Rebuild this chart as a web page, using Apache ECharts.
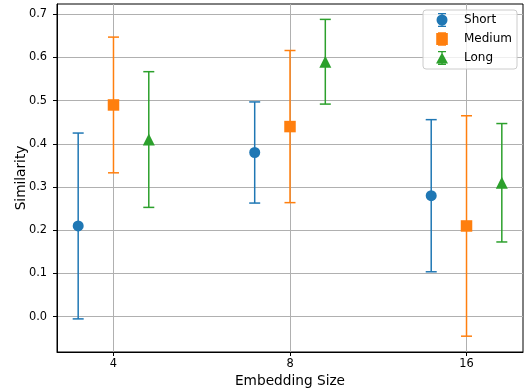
<!DOCTYPE html>
<html>
<head>
<meta charset="utf-8">
<script src="https://cdn.jsdelivr.net/npm/echarts@6/dist/echarts.min.js"></script>
<style>
html,body{margin:0;padding:0;background:#fff;}
#chart{width:526px;height:392px;}
</style>
</head>
<body>
<div id="chart"></div>
<script>
const categories = ['4', '8', '16'];
const yTicks = [0, 0.1, 0.2, 0.3, 0.4, 0.5, 0.6, 0.7];
const shortMean = [0.21, 0.38, 0.28];
const shortErr = [0.215, 0.117, 0.176];
const mediumMean = [0.49, 0.44, 0.21];
const mediumErr = [0.157, 0.176, 0.255];
const longMean = [0.41, 0.59, 0.31];
const longErr = [0.157, 0.098, 0.137];

const groups = [
  {name: 'Short', mean: shortMean, err: shortErr, color: '#1f77b4', offset: -0.2, symbol: 'circle', size: 11,
   icon: 'path://M2 0H10V1.2H2Z M2 12.8H10V14H2Z M5.3 0H6.7V14H5.3Z M0.5 7A5.5 5.5 0 1 1 11.5 7A5.5 5.5 0 1 1 0.5 7Z'},
  {name: 'Medium', mean: mediumMean, err: mediumErr, color: '#ff7f0e', offset: 0, symbol: 'rect', size: 11.5,
   icon: 'path://M2 0H10V0.8H2Z M2 13.2H10V14H2Z M0.2 1.1H11.8V12.9H0.2Z'},
  {name: 'Long', mean: longMean, err: longErr, color: '#2ca02c', offset: 0.2, symbol: 'triangle', size: 12,
   icon: 'path://M2 0H10V1.2H2Z M2 12.8H10V14H2Z M5.3 0H6.7V14H5.3Z M6 1.5L12 12.5H0Z'}
];

const series = [];
groups.forEach(g => {
  const errData = categories.map((c, i) => [i + g.offset, g.mean[i] - g.err[i], g.mean[i] + g.err[i]]);
  series.push({
    name: g.name + ' error',
    type: 'custom',
    data: errData,
    z: 2,
    renderItem: function (params, api) {
      const x = api.value(0);
      const lo = api.coord([x, api.value(1)]);
      const hi = api.coord([x, api.value(2)]);
      const cap = 5.5;
      const style = {stroke: g.color, lineWidth: 1.5, fill: null};
      return {
        type: 'group',
        children: [
          {type: 'line', shape: {x1: lo[0], y1: lo[1], x2: hi[0], y2: hi[1]}, style: style},
          {type: 'line', shape: {x1: lo[0] - cap, y1: lo[1], x2: lo[0] + cap, y2: lo[1]}, style: style},
          {type: 'line', shape: {x1: hi[0] - cap, y1: hi[1], x2: hi[0] + cap, y2: hi[1]}, style: style}
        ]
      };
    },
    silent: true
  });
  series.push({
    name: g.name,
    type: 'scatter',
    symbol: g.symbol,
    symbolSize: g.size,
    itemStyle: {color: g.color, opacity: 1},
    z: 3,
    data: categories.map((c, i) => [i + g.offset, g.mean[i]])
  });
});

const chart = echarts.init(document.getElementById('chart'), null, {renderer: 'canvas'});
const font = 'DejaVu Sans';
chart.setOption({
  animation: false,
  backgroundColor: '#fff',
  textStyle: {fontFamily: font},
  grid: {left: 57, right: 3, top: 4, bottom: 40, outerBoundsMode: 'none', containLabel: false,
    show: true, borderColor: '#000', borderWidth: 1, backgroundColor: 'transparent'},
  legend: {
    orient: 'vertical',
    right: 9,
    top: 10,
    data: groups.map(g => ({name: g.name, icon: g.icon})),
    itemWidth: 34,
    itemHeight: 14,
    itemGap: 5,
    padding: [3, 5, 4, 13],
    backgroundColor: 'rgba(255,255,255,0.8)',
    borderColor: '#cccccc',
    borderWidth: 1,
    borderRadius: 3,
    textStyle: {fontFamily: font, fontSize: 12, color: '#000'}
  },
  xAxis: {
    type: 'value',
    min: -0.32,
    max: 2.32,
    name: 'Embedding Size',
    nameLocation: 'middle',
    nameGap: 21,
    nameTextStyle: {fontFamily: font, fontSize: 13.7, color: '#000'},
    axisLine: {show: true, onZero: false, lineStyle: {color: '#000', width: 1}},
    axisTick: {show: true, customValues: [0, 1, 2], length: 4, lineStyle: {color: '#000'}},
    axisLabel: {customValues: [0, 1, 2], margin: 7, fontFamily: font, fontSize: 11.4, color: '#000',
      formatter: v => categories[Math.round(v)]},
    splitLine: {show: true, customValues: [0, 1, 2], lineStyle: {color: '#b0b0b0', width: 1}}
  },
  yAxis: {
    type: 'value',
    min: -0.0816,
    max: 0.7236,
    name: 'Similarity',
    nameLocation: 'middle',
    nameGap: 29,
    nameMoveOverlap: false,
    nameTextStyle: {fontFamily: font, fontSize: 13.7, color: '#000'},
    axisLine: {show: true, onZero: false, lineStyle: {color: '#000', width: 1}},
    axisTick: {show: true, customValues: yTicks, length: 4, lineStyle: {color: '#000'}},
    axisLabel: {customValues: yTicks, margin: 10, fontFamily: font, fontSize: 11.4, color: '#000',
      formatter: v => v.toFixed(1)},
    splitLine: {show: true, customValues: yTicks, lineStyle: {color: '#b0b0b0', width: 1}}
  },
  series: series
});
</script>
</body>
</html>
